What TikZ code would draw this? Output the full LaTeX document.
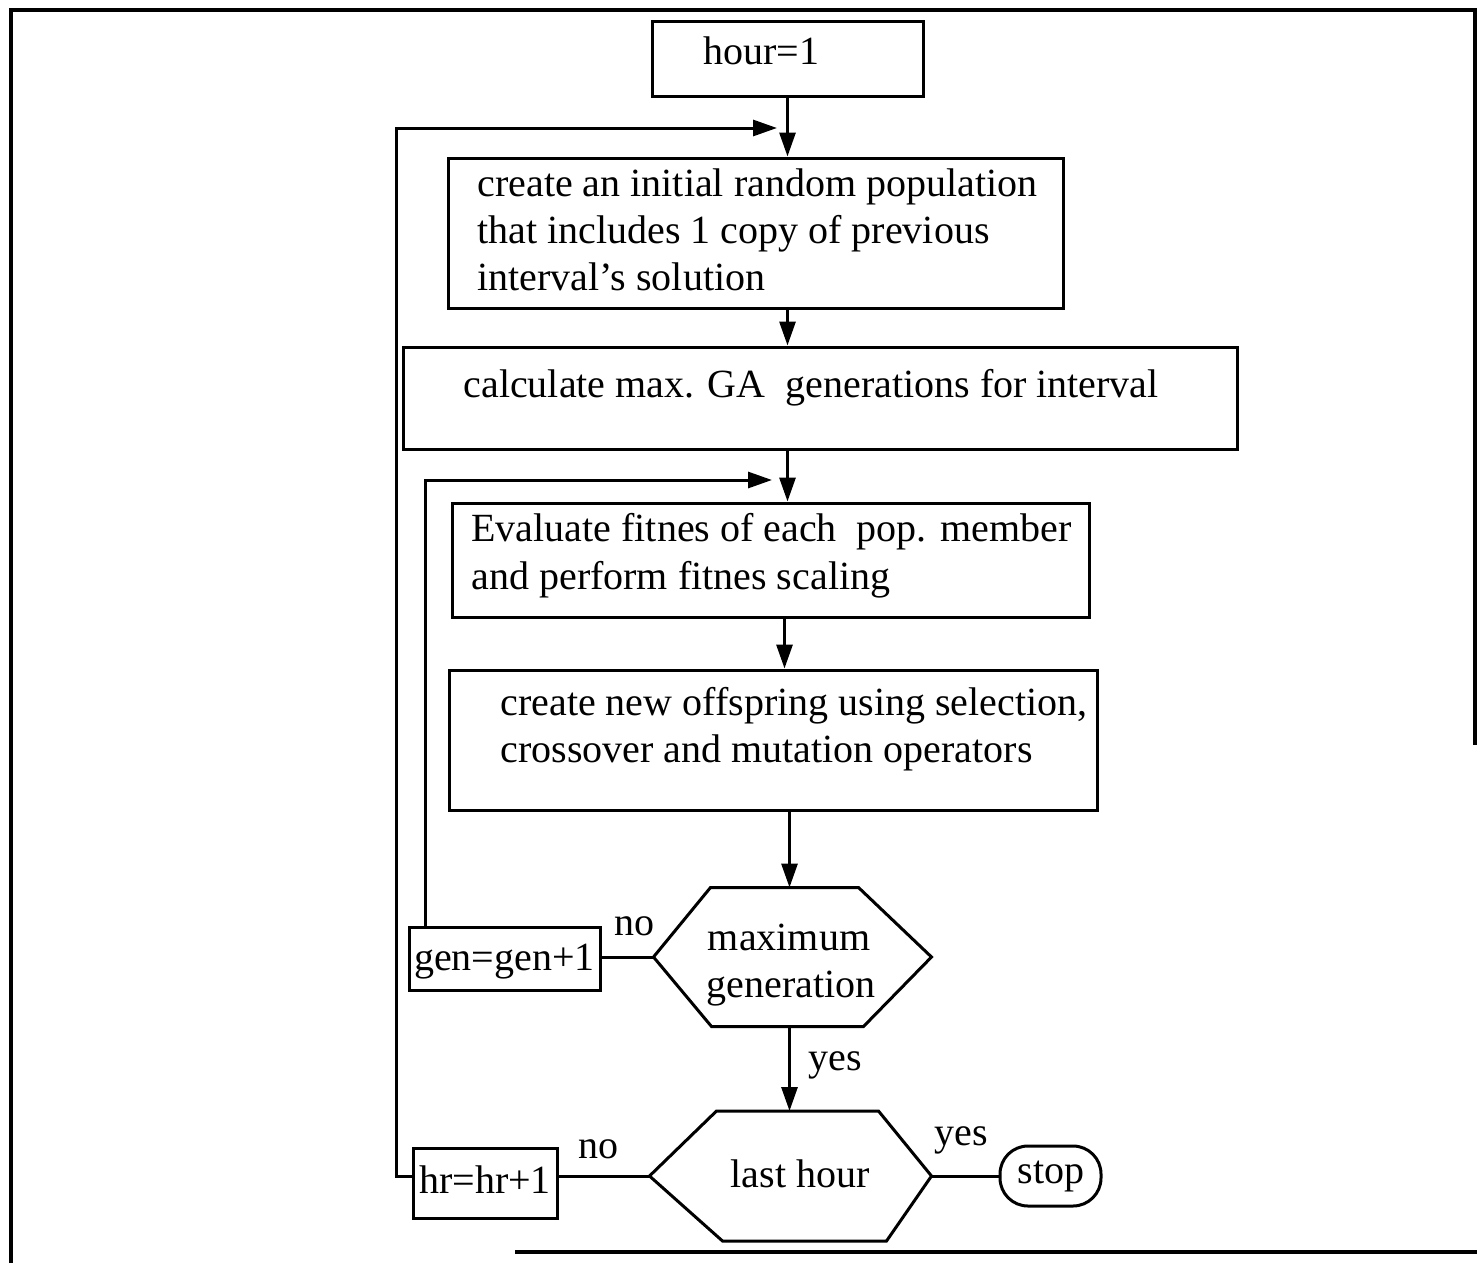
\documentclass[tikz,border=0pt]{standalone}
\usepackage{fontspec}
\setmainfont{Liberation Serif}
\usetikzlibrary{arrows.meta}

\begin{document}
\begin{tikzpicture}[x=1pt,y=-1pt,
    line width=3pt,
    every node/.style={font=\fontsize{40}{47}\selectfont, inner sep=0pt},
    procbox/.style={draw, rectangle, line width=3pt},
    hexbox/.style={rectangle, draw=none},
    termbox/.style={draw, rectangle, rounded corners=28pt, line width=3pt},
    txt/.style={anchor=base west},
    ctxt/.style={anchor=base},
    arr/.style={-{Triangle[length=24pt,width=16pt]}},
  ]
  \useasboundingbox (0,0) rectangle (1477,1263);

  % outer frame
  \draw[line width=4pt] (11,1263) -- (11,10) -- (1475,10) -- (1475,745);
  \draw[line width=4pt] (515,1252) -- (1477,1252);

  % process boxes
  \node[procbox, minimum width=271pt, minimum height=74pt]  (hour) at (787.5,59)  {};
  \node[procbox, minimum width=615pt, minimum height=150pt] (create) at (755.5,233) {};
  \node[procbox, minimum width=834pt, minimum height=102pt] (calc) at (820,398) {};
  \node[procbox, minimum width=637pt, minimum height=114pt] (eval) at (770.5,560) {};
  \node[procbox, minimum width=648pt, minimum height=140pt] (offs) at (773,740) {};
  \node[procbox, minimum width=191pt, minimum height=63pt]  (gen) at (504.5,959) {};
  \node[procbox, minimum width=144pt, minimum height=70pt]  (hr) at (485,1183) {};
  \node[termbox, minimum width=101pt, minimum height=60pt]  (stop) at (1050.5,1176) {};

  % decision hexagons
  \node[hexbox, minimum width=275pt, minimum height=136pt] (mg) at (792.5,957) {};
  \draw (mg.west) -- ([xshift=57pt]mg.north west) -- ([xshift=-73pt]mg.north east)
        -- (mg.east) -- ([xshift=-68pt]mg.south east) -- ([xshift=58pt]mg.south west) -- cycle;
  \node[hexbox, minimum width=279pt, minimum height=127pt] (lh) at (790.5,1176) {};
  \draw (lh.west) -- ([xshift=67pt]lh.north west) -- ([xshift=-53pt]lh.north east)
        -- (lh.east) -- ([xshift=-45pt]lh.south east) -- ([xshift=73pt]lh.south west) -- cycle;

  % texts
  \node[txt] (hour-t) at (702,64) {hour=1};
  \node[txt] (create-t1) at (476,196) {create an initial random population};
  \node[txt] (create-t2) at (476,243) {that includes 1 copy of previous};
  \node[txt] (create-t3) at (476,290) {interval's solution};
  \node[txt] (calc-t) at (462,397) {calculate max. GA\ \ generations for interval};
  \node[txt] (eval-t1) at (470,541) {Evaluate fitnes of each\ \ pop. member};
  \node[txt] (eval-t2) at (470,589) {and perform fitnes scaling};
  \node[txt] (offs-t1) at (499,715) {create new offspring using selection,};
  \node[txt] (offs-t2) at (499,762) {crossover and mutation operators};
  \node[ctxt] (mg-t1) at (789,950) {maximum};
  \node[ctxt] (mg-t2) at (791,997) {generation};
  \node[ctxt] (gen-t) at (504.5,970) {gen=gen+1};
  \node[ctxt] (lh-t) at (800,1187) {last hour};
  \node[ctxt] (hr-t) at (485,1193) {hr=hr+1};
  \node[ctxt] (stop-t) at (1051,1183) {stop};

  % branch labels
  \node[ctxt] (no1) at (634,935) {no};
  \node[ctxt] (yes1) at (835,1070) {yes};
  \node[ctxt] (no2) at (598,1158) {no};
  \node[ctxt] (yes2) at (961,1145) {yes};

  % main flow
  \draw[arr] (hour.south) -- (hour.south |- create.north);
  \draw[arr] (hour.south |- create.south) -- (hour.south |- calc.north);
  \draw[arr] (hour.south |- calc.south) -- (hour.south |- eval.north);
  \draw[arr] ([xshift=-3pt]hour.south |- eval.south) -- ([xshift=-3pt]hour.south |- offs.north);
  \draw[arr] ([xshift=2pt]hour.south |- offs.south) -- ([xshift=2pt]hour.south |- mg.north);
  \draw[arr] ([xshift=2pt]hour.south |- mg.south) -- ([xshift=2pt]hour.south |- lh.north);

  % side branches
  \draw (mg.west -| gen.east) -- (mg.west);
  \draw (lh.west -| hr.east) -- (lh.west);
  \draw (lh.east) -- (lh.east -| stop.west);

  % generation loop
  \coordinate (innerB) at (425,927.5);
  \coordinate (innerT) at (772,480);
  \draw[arr] (innerB) |- (innerT);

  % hour loop
  \coordinate (outerL) at (396,128);
  \coordinate (outerT) at (777,128);
  \draw[arr] (lh.west -| hr.west) -| (outerL) -- (outerT);
\end{tikzpicture}
\end{document}
